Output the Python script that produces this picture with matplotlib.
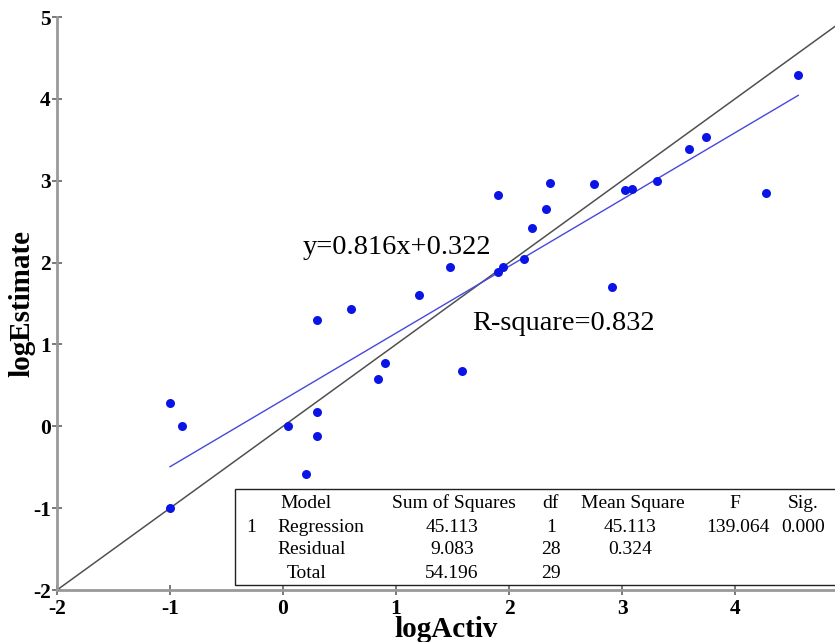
import matplotlib
matplotlib.use("Agg")
import matplotlib.pyplot as plt
from matplotlib.patches import Rectangle

# observed vs. estimated values (log scale)
log_activ = [-1.00, -0.89, -1.00, 0.04, 0.30, 0.30, 0.20, 0.30, 0.60, 0.84,
             0.90, 1.20, 1.48, 1.58, 1.90, 1.95, 1.90, 2.13, 2.20, 2.33,
             2.36, 2.75, 2.91, 3.03, 3.09, 3.31, 3.59, 3.74, 4.27, 4.56]
log_est = [0.29, 0.00, -1.00, 0.00, 0.17, -0.12, -0.58, 1.30, 1.43, 0.58,
           0.77, 1.60, 1.95, 0.68, 1.88, 1.94, 2.83, 2.04, 2.42, 2.65,
           2.97, 2.96, 1.70, 2.89, 2.90, 3.00, 3.39, 3.54, 2.85, 4.29]

slope = 0.816
intercept = 0.322
r_square = 0.832

xticks = [-2, -1, 0, 1, 2, 3, 4]
yticks = [-2, -1, 0, 1, 2, 3, 4, 5]

# ANOVA table
table_header = ["Model", "Sum of Squares", "df", "Mean Square", "F", "Sig."]
table_rows = [
    ["1", "Regression", "45.113", "1", "45.113", "139.064", "0.000"],
    ["", "Residual", "9.083", "28", "0.324", "", ""],
    ["", "Total", "54.196", "29", "", "", ""],
]

W, H = 835, 642
plt.rcParams['font.family'] = ['Liberation Serif', 'DejaVu Serif']

fig = plt.figure(figsize=(W / 100, H / 100), dpi=100)
ax = fig.add_axes([57 / W, (H - 590) / H, (W - 57) / W, 573 / H])

x_max = -2 + 778 / 113
ax.set_xlim(-2, x_max)
ax.set_ylim(-2, 5)

# y = x reference line and fitted line
ax.plot([-2, x_max], [-2, x_max], color='#505050', lw=1.1, zorder=2)
x0, x1 = min(log_activ), max(log_activ)
ax.plot([x0, x1], [slope * x0 + intercept, slope * x1 + intercept],
        color='#4848dc', lw=1.0, zorder=2)

ax.scatter(log_activ, log_est, s=42, color='#0a14e6', zorder=3, linewidths=0)

ax.text(0.177, 2.10, "y=%.3fx+%.3f" % (slope, intercept), fontsize=20.5,
        va='baseline', ha='left')
ax.text(1.673, 1.18, "R-square=%.3f" % r_square, fontsize=20.5,
        va='baseline', ha='left')

for s in ['top', 'right']:
    ax.spines[s].set_visible(False)
for s in ['left', 'bottom']:
    ax.spines[s].set_color('#999999')
    ax.spines[s].set_linewidth(2.0)

ax.set_xticks(xticks)
ax.set_yticks(yticks)
ax.set_xticklabels([str(t) for t in xticks], fontweight='bold', fontsize=15.5)
ax.set_yticklabels([str(t) for t in yticks], fontweight='bold', fontsize=15.5)
ax.tick_params(direction='inout', length=7, width=1.1, color='#555555', pad=1)
ax.tick_params(axis='x', pad=3)

ax.set_xlabel("logActiv", fontsize=21, fontweight='bold', labelpad=-2)
ax.set_ylabel("logEstimate", fontsize=21, fontweight='bold', labelpad=-2)

# table box and text, placed in figure pixels
def fx(px):
    return px / W

def fy(py):
    return 1 - py / H

fig.patches.append(Rectangle((fx(235), fy(585)), fx(W + 10) - fx(235),
                             fy(489) - fy(585), transform=fig.transFigure,
                             fill=False, edgecolor='#222222', lw=1.0,
                             clip_on=False, zorder=5))

row_y = [503, 527, 550, 573]
tfs = 14
fig.text(fx(306), fy(row_y[0]), table_header[0], ha='center', va='center', fontsize=tfs)
head_x = [454, 550, 633, 735, 803]
for hx, lab in zip(head_x, table_header[1:]):
    fig.text(fx(hx), fy(row_y[0]), lab, ha='center', va='center', fontsize=tfs)

val_x = [452, 551, 630, 738, 803]
for r, row in enumerate(table_rows):
    yy = fy(row_y[r + 1])
    if row[0]:
        fig.text(fx(251), yy, row[0], ha='center', va='center', fontsize=tfs)
    if row[1] == "Total":
        fig.text(fx(307), yy, row[1], ha='center', va='center', fontsize=tfs)
    else:
        fig.text(fx(277), yy, row[1], ha='left', va='center', fontsize=tfs)
    for vx, v in zip(val_x, row[2:]):
        if v:
            fig.text(fx(vx), yy, v, ha='center', va='center', fontsize=tfs)

fig.savefig("out.png", dpi=100)
